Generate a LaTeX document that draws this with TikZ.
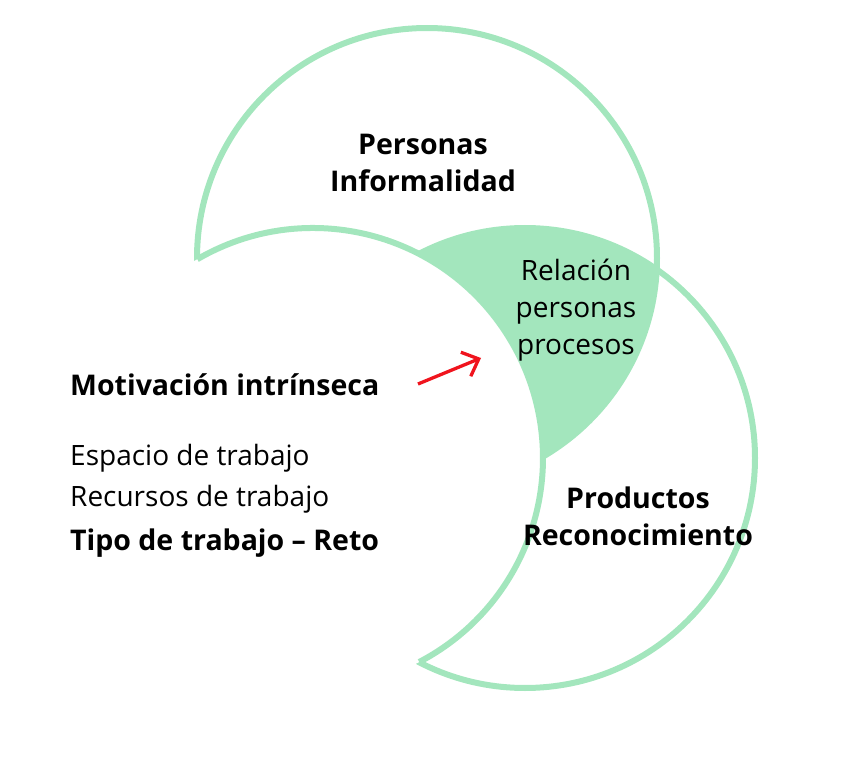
\documentclass[tikz,border=0pt]{standalone}
\usepackage{fontspec}
\setmainfont{Open Sans}
\usetikzlibrary{arrows.meta}
\definecolor{mint}{RGB}{163,230,189}
\definecolor{arrowred}{RGB}{240,20,30}
\begin{document}
\begin{tikzpicture}[x=1pt,y=-1pt,
  ring/.style={draw=mint,line width=6pt},
  boldtxt/.style={font=\fontsize{28.5}{37}\selectfont\bfseries,align=center,inner sep=0pt},
  regtxt/.style={font=\fontsize{28}{37}\selectfont,align=center,inner sep=0pt},
  lefttxt/.style={inner sep=0pt,anchor=west}]
\useasboundingbox (0,0) rectangle (844,778);
\coordinate (T) at (427,258);
\coordinate (R) at (525,458);
\coordinate (L) at (313,458);
% green lens
\begin{scope}
  \clip (T) circle (230pt);
  \fill[mint] (R) circle (230pt);
\end{scope}
\draw[ring] (T) circle (230pt);
\draw[ring] (R) circle (230pt);
% white left disc
\fill[white] (L) circle (230pt);
\draw[ring] (L) ++(120.2:230pt) arc[start angle=120.2,end angle=-62.5,radius=230pt];
% texts
\node[boldtxt] (pers) at (423,163) {Personas\\Informalidad};
\node[regtxt] (rel) at (576,310) {Relación\\personas\\procesos};
\node[boldtxt] (prod) at (638,516) {Productos\\Reconocimiento};
\node[lefttxt,font=\fontsize{28.5}{30}\selectfont\bfseries] (mot) at (70,385) {Motivación intrínseca};
\node[lefttxt,font=\fontsize{28}{30}\selectfont] (esp) at (70,458) {Espacio de trabajo};
\node[lefttxt,font=\fontsize{28}{30}\selectfont] (rec) at (70,499) {Recursos de trabajo};
\node[lefttxt,font=\fontsize{28.5}{30}\selectfont\bfseries] (tip) at (70,543) {Tipo de trabajo – Reto};
\coordinate (a1) at (418,384);
\coordinate (a2) at (481,358);
\draw[arrowred,line width=3.3pt,-{Straight Barb[length=14pt,width=26pt]}] (a1) -- (a2);
\end{tikzpicture}
\end{document}
